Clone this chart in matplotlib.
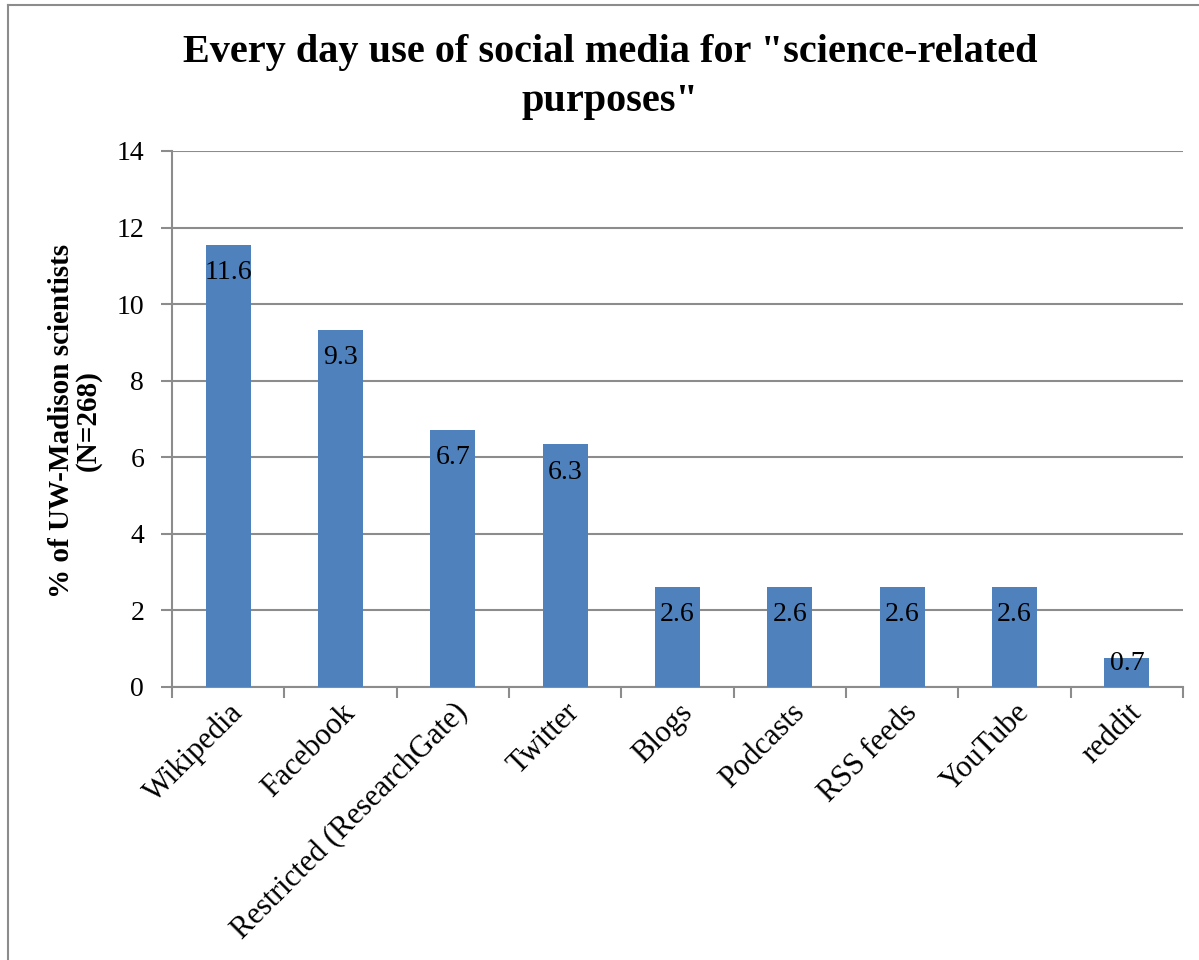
import matplotlib.pyplot as plt
from matplotlib.lines import Line2D

categories = ['Wikipedia', 'Facebook', 'Restricted (ResearchGate)', 'Twitter', 'Blogs',
              'Podcasts', 'RSS feeds', 'YouTube', 'reddit']
values = [11.55, 9.33, 6.72, 6.34, 2.61, 2.61, 2.61, 2.61, 0.75]
value_labels = ['11.6', '9.3', '6.7', '6.3', '2.6', '2.6', '2.6', '2.6', '0.7']
yticks = [0, 2, 4, 6, 8, 10, 12, 14]

plt.rcParams['font.family'] = ['Liberation Serif', 'DejaVu Serif']

fig = plt.figure(figsize=(11.99, 9.6), dpi=100)
ax = fig.add_axes([172 / 1199, 1 - 687 / 960, (1183 - 172) / 1199, (687 - 151) / 960])

x = list(range(len(categories)))
ax.bar(x, values, width=0.4, color='#4f81bd', zorder=3)

# labels inside the bar end; too-short bars get the label pushed up from the axis
for xi, v, lab in zip(x, values, value_labels):
    if v > 1.5:
        ax.annotate(lab, (xi, v), xytext=(0, -11), textcoords='offset points',
                    ha='center', va='top', fontsize=20, zorder=4)
    else:
        ax.annotate(lab, (xi, 0), xytext=(0, 8), textcoords='offset points',
                    ha='center', va='bottom', fontsize=20, zorder=4)

ax.set_xlim(-0.5, len(categories) - 0.5)
ax.set_ylim(0, 14)
ax.set_yticks(yticks)
ax.set_yticklabels([str(t) for t in yticks], fontsize=20)
ax.yaxis.grid(True, color='#8c8c8c', linewidth=1.5, zorder=0)

ax.set_xticks([i - 0.5 for i in range(len(categories) + 1)], minor=False)
ax.set_xticklabels([])
ax.set_xticks(x, minor=True)
ax.set_xticklabels(categories, minor=True, rotation=45, ha='right',
                   rotation_mode='anchor', fontsize=22)
ax.tick_params(axis='x', which='minor', length=0, pad=8)
ax.tick_params(axis='x', which='major', length=8, width=1.5, color='#8c8c8c', direction='out')
ax.tick_params(axis='y', length=8, width=1.5, color='#8c8c8c', pad=12)

for s in ['top', 'right']:
    ax.spines[s].set_visible(False)
for s in ['left', 'bottom']:
    ax.spines[s].set_color('#8c8c8c')
    ax.spines[s].set_linewidth(1.5)

fig.text(75 / 1199, 1 - 421 / 960, '% of UW-Madison scientists\n(N=268)', rotation=90,
         ha='center', va='center', multialignment='center', fontsize=21,
         fontweight='bold', linespacing=0.95)

fig.text(610 / 1199, 1 - 77 / 960, 'Every day use of social media for "science-related\npurposes"',
         ha='center', va='center', fontsize=29, fontweight='bold', linespacing=1.4)

# outer chart border (cut off at right and bottom)
fig.add_artist(Line2D([8 / 1199, 8 / 1199], [0, 1 - 5 / 960], transform=fig.transFigure,
                      color='#8c8c8c', linewidth=1.5))
fig.add_artist(Line2D([8 / 1199, 1], [1 - 5 / 960, 1 - 5 / 960], transform=fig.transFigure,
                      color='#8c8c8c', linewidth=1.5))

fig.savefig('out.png', dpi=100)
